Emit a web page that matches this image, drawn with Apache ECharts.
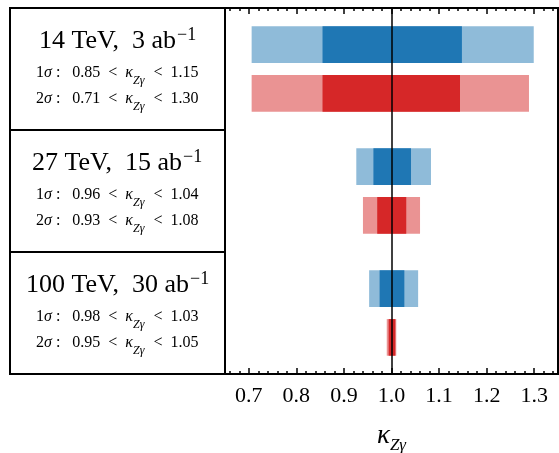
<!DOCTYPE html>
<html>
<head>
<meta charset="utf-8">
<script src="https://cdn.jsdelivr.net/npm/echarts@6/dist/echarts.min.js"></script>
<style>
html, body { margin: 0; padding: 0; background: #fff; }
#main { width: 559px; height: 453px; }
</style>
</head>
<body>
<div id="main"></div>
<script>
// collider setups
var energies = ['14', '27', '100'];
var lumis = ['3', '15', '30'];
var oneSigmaText = [['0.85', '1.15'], ['0.96', '1.04'], ['0.98', '1.03']];
var twoSigmaText = [['0.71', '1.30'], ['0.93', '1.08'], ['0.95', '1.05']];

// bar rows (y in group units) and intervals
var rowBlue = [0.3, 1.3, 2.3];
var rowRed = [0.7, 1.7, 2.7];
var blue1s = [[0.855, 1.148], [0.962, 1.041], [0.975, 1.027]];
var blue2s = [[0.706, 1.299], [0.926, 1.083], [0.953, 1.056]];
var red1s = [[0.855, 1.144], [0.970, 1.031], [0.994, 1.008]];
var red2s = [[0.706, 1.289], [0.940, 1.060], [0.990, 1.010]];

var xMin = 0.65, xMax = 1.35;
var barH = 0.3;
var serif = 'Liberation Serif';

var myChart = echarts.init(document.getElementById('main'));

function toData(ranges, rows) {
	var out = [];
	for (var i = 0; i < ranges.length; i++) {
		out.push([ranges[i][0], ranges[i][1], rows[i]]);
	}
	return out;
}

function renderBar(params, api) {
	var lo = api.value(0), hi = api.value(1), y = api.value(2);
	var p0 = api.coord([lo, y - barH / 2]);
	var p1 = api.coord([hi, y + barH / 2]);
	return {
		type: 'rect',
		shape: {
			x: p0[0],
			y: Math.min(p0[1], p1[1]),
			width: p1[0] - p0[0],
			height: Math.abs(p1[1] - p0[1])
		},
		style: { fill: api.visual('color') }
	};
}

function barSeries(name, ranges, rows, color) {
	return {
		name: name,
		type: 'custom',
		renderItem: renderBar,
		xAxisIndex: 0,
		yAxisIndex: 0,
		encode: { x: [0, 1], y: 2 },
		itemStyle: { color: color },
		data: toData(ranges, rows),
		silent: true
	};
}

// rich styles for the left boxes
var richStyles = {
	m: { fontFamily: serif, fontSize: 26, lineHeight: 28, verticalAlign: 'bottom', color: '#000' },
	p: { fontFamily: serif, fontSize: 18, lineHeight: 18, verticalAlign: 'top', padding: [0, 0, 0, 1], color: '#000' },
	t: { fontFamily: serif, fontSize: 16, lineHeight: 18, verticalAlign: 'top', color: '#000' },
	i: { fontFamily: serif, fontSize: 16, fontStyle: 'italic', lineHeight: 18, verticalAlign: 'top', color: '#000' },
	s: { fontFamily: serif, fontSize: 12, fontStyle: 'italic', lineHeight: 12, padding: [10, 1, 0, 0], verticalAlign: 'top', color: '#000' }
};

// measure a rich string so it can be centred in its box
var measureCtx = document.createElement('canvas').getContext('2d');
function richWidth(parts) {
	var w = 0;
	for (var k = 0; k < parts.length; k++) {
		var st = richStyles[parts[k][0]];
		measureCtx.font = (st.fontStyle === 'italic' ? 'italic ' : '') + st.fontSize + 'px "' + serif + '"';
		w += measureCtx.measureText(parts[k][1]).width;
		if (st.padding) w += st.padding[1] + st.padding[3];
	}
	return w;
}
function richString(parts) {
	var s = '';
	for (var k = 0; k < parts.length; k++) s += '{' + parts[k][0] + '|' + parts[k][1] + '}';
	return s;
}

var gTop = 8, gH = 122, boxL = 10, boxR = 225, cx = 117.5;
var graphics = [{
	type: 'rect',
	shape: { x: boxL, y: gTop, width: boxR - boxL, height: gH * 3 },
	style: { fill: 'none', stroke: '#000', lineWidth: 2 }
}];
for (var i = 1; i < 3; i++) {
	graphics.push({
		type: 'line',
		shape: { x1: boxL, y1: gTop + gH * i, x2: boxR, y2: gTop + gH * i },
		style: { stroke: '#000', lineWidth: 2 }
	});
}
function addText(parts, yPos) {
	graphics.push({
		type: 'text',
		left: Math.round(cx - richWidth(parts) / 2),
		top: yPos,
		style: { text: richString(parts), rich: richStyles }
	});
}
function sigmaParts(n, lo, hi) {
	return [['t', n], ['i', '\u03c3'], ['t', ' :   ' + lo + '  <  '], ['i', '\u03ba'], ['s', 'Z\u03b3'], ['t', '  <  ' + hi]];
}
for (var i = 0; i < 3; i++) {
	var boxTop = gTop + gH * i;
	addText([['m', energies[i] + ' TeV,  ' + lumis[i] + ' ab'], ['p', '\u22121']], boxTop + 18);
	addText(sigmaParts('1', oneSigmaText[i][0], oneSigmaText[i][1]), boxTop + 57);
	addText(sigmaParts('2', twoSigmaText[i][0], twoSigmaText[i][1]), boxTop + 83);
}

function tenthLabel(v) {
	return Math.abs(v * 10 - Math.round(v * 10)) < 1e-6 ? v.toFixed(1) : '';
}

function xAxisCfg(position, major, labels) {
	var cfg = {
		type: 'value',
		position: position,
		min: xMin,
		max: xMax,
		splitNumber: major ? 7 : 35,
		axisLine: { show: false, onZero: false },
		axisTick: {
			show: true, inside: true, length: major ? 6 : 3,
			lineStyle: { color: '#000', width: 1.5 }
		},
		axisLabel: { show: false },
		splitLine: { show: false }
	};
	if (labels) {
		cfg.axisLabel = {
			show: true,
			margin: 11,
			color: '#000',
			fontFamily: serif,
			fontSize: 22,
			showMinLabel: false,
			showMaxLabel: false,
			formatter: tenthLabel
		};
		cfg.name = '{k|\u03ba}{s|Z\u03b3}';
		cfg.nameLocation = 'middle';
		cfg.nameGap = 48;
		cfg.nameTextStyle = {
			rich: {
				k: { fontFamily: serif, fontSize: 27, fontStyle: 'italic', lineHeight: 28, verticalAlign: 'top', color: '#000' },
				s: { fontFamily: serif, fontSize: 17, fontStyle: 'italic', lineHeight: 17, padding: [15, 0, 0, 0], verticalAlign: 'top', color: '#000' }
			}
		};
	}
	return cfg;
}

var option = {
	animation: false,
	grid: {
		left: 225, right: 1, top: 8, bottom: 79,
		show: true, borderColor: '#000', borderWidth: 2,
		containLabel: false,
		outerBoundsMode: 'none'
	},
	xAxis: [
		xAxisCfg('bottom', true, true),
		xAxisCfg('bottom', false, false),
		xAxisCfg('top', true, false),
		xAxisCfg('top', false, false)
	],
	yAxis: {
		type: 'value', min: 0, max: 3, inverse: true, show: false
	},
	graphic: graphics,
	series: [
		barSeries('blue 2sigma', blue2s, rowBlue, '#8fbbd9'),
		barSeries('blue 1sigma', blue1s, rowBlue, '#1f77b4'),
		barSeries('red 2sigma', red2s, rowRed, '#ea9393'),
		barSeries('red 1sigma', red1s, rowRed, '#d62728'),
		{
			type: 'line',
			data: [],
			z: 10,
			markLine: {
				silent: true,
				symbol: ['none', 'none'],
				label: { show: false },
				lineStyle: { color: '#000', width: 1.5, type: 'solid' },
				data: [{ xAxis: 1.0 }]
			}
		}
	]
};
myChart.setOption(option);
</script>
</body>
</html>
